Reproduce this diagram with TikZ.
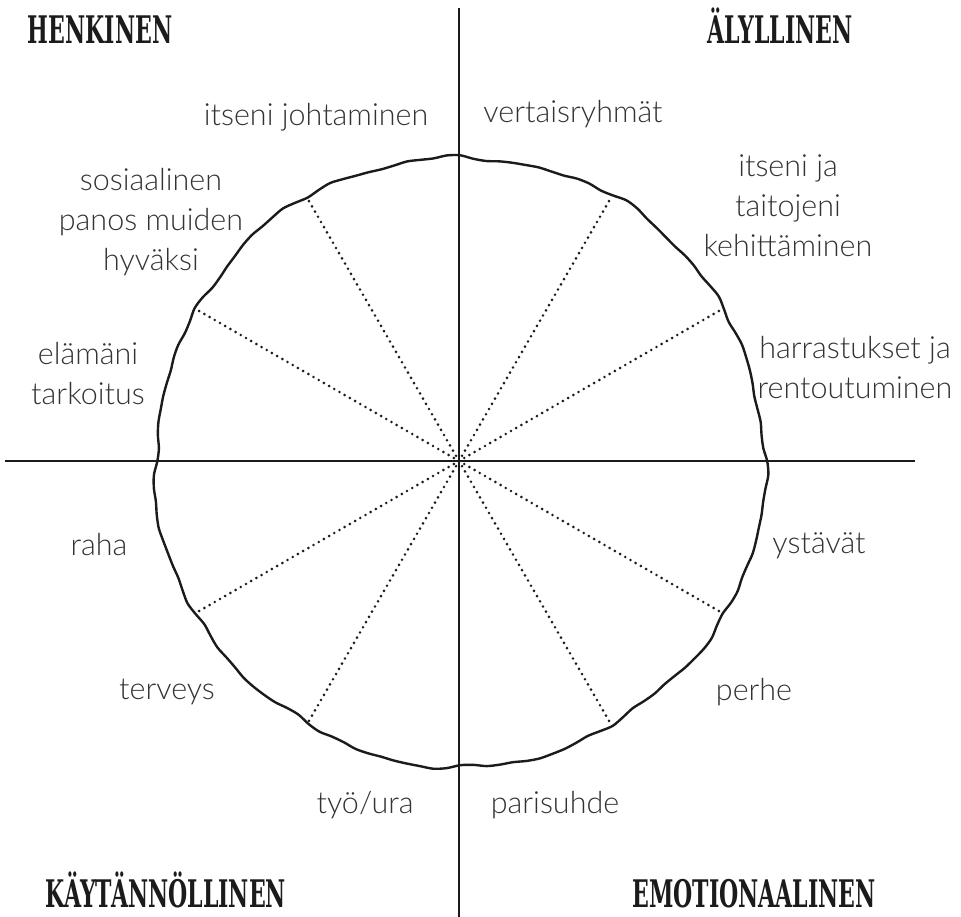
\documentclass[tikz,border=0pt]{standalone}
\usepackage{fontspec}
\usetikzlibrary{calc}
\setmainfont{Lato Light}
\newfontfamily\headfont{DejaVu Serif}[FakeStretch=0.58]
\definecolor{ink}{HTML}{1C1A1A}
\definecolor{txt}{HTML}{333333}
\begin{document}
\begin{tikzpicture}[x=1pt,y=-1pt,
  axis/.style={line width=2.4pt,color=ink},
  rim/.style={line width=2.4pt,color=ink,line join=round},
  spoke/.style={line width=2.9pt,color=ink,line cap=round,dash pattern=on 0pt off 6pt},
  lbl/.style={font=\fontsize{30.5}{40}\selectfont,color=txt,align=center,inner sep=0pt},
  head/.style={font=\headfont\bfseries\fontsize{38}{38}\selectfont,color=ink,inner sep=0pt,anchor=base}]
\useasboundingbox (0,0) rectangle (961,917);
\coordinate (c) at (459,461);
% wobbly circle
\draw[rim] plot[smooth cycle,samples=144,domain=0:357.5]
  ({460+(305+1.6*sin(5*\x)+1.3*sin(11*\x+30)+1.0*sin(19*\x+70)+0.9*sin(31*\x+15)+0.7*sin(43*\x+40))*cos(\x)},
   {461.5+(305+1.6*sin(5*\x)+1.3*sin(11*\x+30)+1.0*sin(19*\x+70)+0.9*sin(31*\x+15)+0.7*sin(43*\x+40))*sin(\x)});
% spokes
\foreach \a/\n in {30/s1,60/s2,120/s3,150/s4,210/s5,240/s6,300/s7,330/s8}{
  \coordinate (\n) at ($(c)+(\a:302)$);
  \draw[spoke] (c) -- (\n);
}
% axes
\coordinate (vt) at (459,8);
\coordinate (vb) at (459,917);
\coordinate (hl) at (5,461);
\coordinate (hr) at (915,461);
\draw[axis] (vt) -- (vb);
\draw[axis] (hl) -- (hr);
% headings
\node[head] (h1) at (100,44) {HENKINEN};
\node[head] (h2) at (780,44) {ÄLYLLINEN};
\node[head] (h3) at (166,907) {KÄYTÄNNÖLLINEN};
\node[head] (h4) at (754,907) {EMOTIONAALINEN};
% labels
\node[lbl] (l1) at (316,117) {itseni johtaminen};
\node[lbl] (l2) at (573,114) {vertaisryhmät};
\node[lbl] (l3) at (788,206) {itseni ja\\taitojeni\\kehittäminen};
\node[lbl] (l4) at (151,222) {sosiaalinen\\panos muiden\\hyväksi};
\node[lbl] (l5) at (88,374) {elämäni\\tarkoitus};
\node[lbl] (l6) at (855,368) {harrastukset ja\\rentoutuminen};
\node[lbl] (l7) at (99,545) {raha};
\node[lbl] (l8) at (819,546) {ystävät};
\node[lbl] (l9) at (167,692) {terveys};
\node[lbl] (l10) at (754,692) {perhe};
\node[lbl] (l11) at (365,805) {työ/ura};
\node[lbl] (l12) at (555,805) {parisuhde};
\end{tikzpicture}
\end{document}
